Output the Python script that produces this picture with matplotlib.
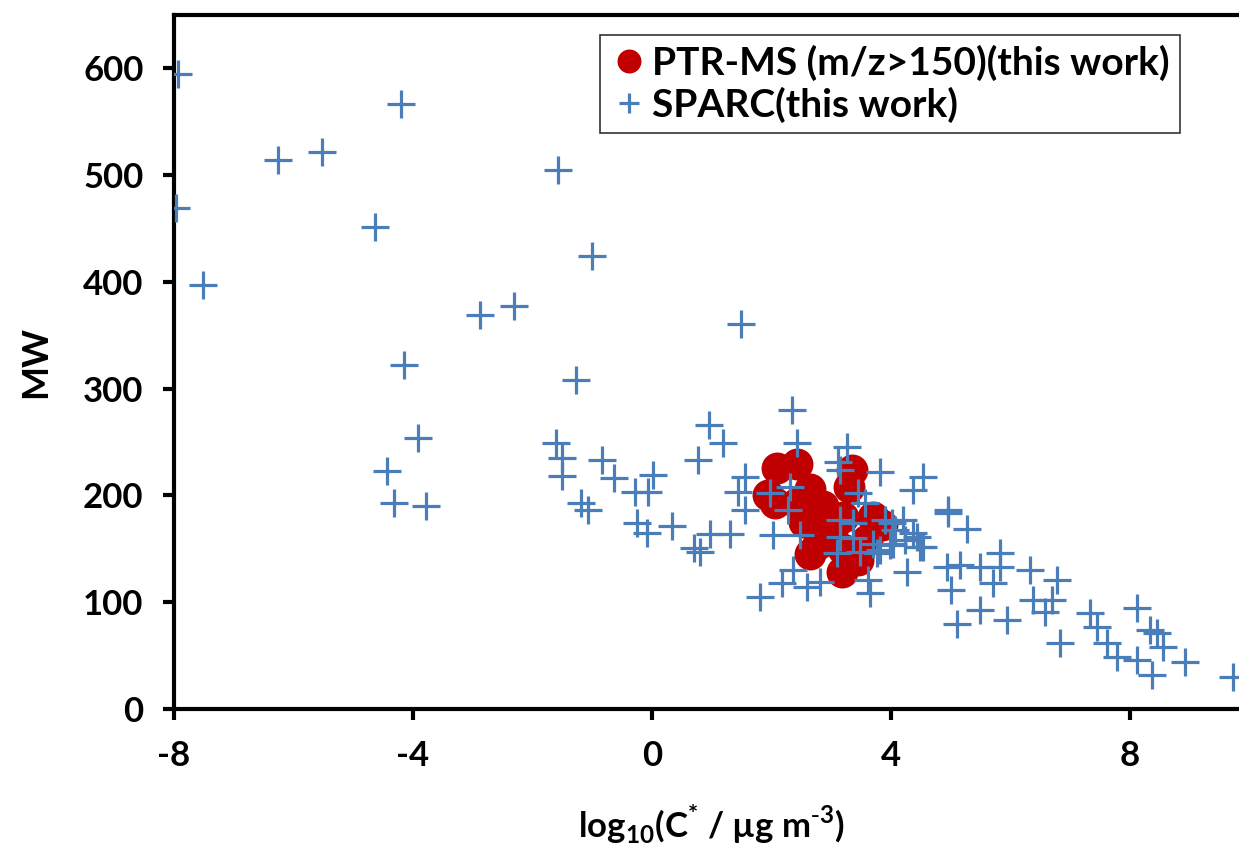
import matplotlib
matplotlib.use("Agg")
import matplotlib.pyplot as plt

plt.rcParams['font.family'] = ['Lato', 'DejaVu Sans']
plt.rcParams['axes.unicode_minus'] = False

# SPARC (this work): log10(C*) and MW
sparc_x = [-7.93, -7.97, -7.51, -6.26, -5.52, -4.20, -4.64, -4.15, -3.92, -4.44,
           -4.32, -3.78, -2.88, -2.31, -1.57, -1.00, -1.27, 1.49,
           -1.61, -1.51, -1.51, -0.84, -0.64, -1.19, -1.07, -0.28, -0.25, -0.08,
           0.02, -0.07, 0.33, 0.95, 1.19, 0.77, 1.56, 1.44, 1.56, 0.97, 1.31, 0.80,
           0.70, 2.34, 2.43, 1.97, 2.31, 2.28, 2.03, 2.48, 2.36, 2.17, 1.81, 2.81,
           3.26, 3.11, 3.15, 3.82, 3.45, 3.57, 3.15, 3.37, 3.15, 3.37, 3.70, 3.10,
           3.48, 3.82, 4.02, 3.62, 2.59, 3.65,
           4.54, 4.37, 4.95, 4.95, 5.27, 4.20, 4.03, 4.43, 4.54, 3.77, 4.94, 5.16,
           5.49, 5.82, 5.82, 6.33, 6.78, 5.71, 5.00, 4.27, 5.49, 7.33, 4.37, 4.48,
           5.94, 5.10, 6.38, 4.07, 4.23, 3.98, 3.90,
           6.69, 6.58, 6.83, 7.45, 7.61, 7.78, 8.12, 8.34, 8.45, 8.55, 8.12, 8.37,
           8.92, 9.72]
sparc_y = [595, 469, 397, 514, 522, 567, 451, 322, 254, 223,
           193, 190, 369, 377, 505, 424, 308, 361,
           249, 235, 218, 233, 216, 193, 186, 203, 174, 165,
           219, 203, 171, 266, 249, 233, 217, 203, 186, 164, 164, 147,
           151, 280, 249, 202, 208, 186, 163, 163, 130, 118, 105, 119,
           245, 231, 224, 222, 202, 193, 177, 174, 161, 160, 155, 146,
           147, 149, 174, 121, 114, 109,
           217, 205, 184, 186, 169, 177, 155, 161, 152, 146, 133, 135,
           133, 146, 133, 130, 121, 118, 111, 128, 93, 90, 165, 152,
           83, 80, 102, 168, 158, 154, 177,
           102, 91, 62, 77, 62, 49, 95, 74, 71, 58, 46, 32,
           44, 30]

# PTR-MS (m/z>150) (this work)
ptr_x = [2.09, 2.43, 3.35, 3.30, 1.94, 2.06, 2.64, 2.43, 2.86, 2.55, 2.80, 3.03,
         3.20, 3.70, 3.85, 2.78, 2.65, 3.20, 3.60, 3.45, 3.18, 2.95]
ptr_y = [226, 229, 224, 208, 200, 193, 206, 193, 190, 175, 175, 170,
         180, 180, 172, 155, 145, 150, 158, 140, 128, 160]

x_ticks = [-8, -4, 0, 4, 8]
y_ticks = [0, 100, 200, 300, 400, 500, 600]

W, H = 1239, 852
fig = plt.figure(figsize=(W / 100, H / 100), dpi=100)
left = 174 / W
bottom = (H - 709) / H
width = 18 * 59.75 / W
height = (709 - 15) / H
ax = fig.add_axes([left, bottom, width, height])

ax.plot(ptr_x, ptr_y, 'o', color='#C00000', markersize=23, markeredgewidth=0,
        linestyle='none', label='PTR-MS (m/z>150)(this work)', zorder=2)
ax.plot(sparc_x, sparc_y, '+', color='#4A7EBB', markersize=20, markeredgewidth=2.3,
        linestyle='none', label='SPARC(this work)', zorder=3)

ax.set_xlim(-8, 10)
ax.set_ylim(0, 650)
ax.set_xticks(x_ticks)
ax.set_yticks(y_ticks)
ax.set_xticklabels([str(v) for v in x_ticks])
ax.set_yticklabels([str(v) for v in y_ticks])

for s in ax.spines.values():
    s.set_linewidth(3)
    s.set_color('black')
ax.tick_params(direction='out', length=8, width=3, labelsize=25, pad=14)
for lbl in ax.get_xticklabels() + ax.get_yticklabels():
    lbl.set_fontweight('bold')

ax.set_ylabel('MW', fontsize=26, fontweight='bold', labelpad=22)
ax.set_xlabel(r'log$_{\mathregular{10}}$(C$^{\mathregular{*}}$ / µg m$^{\mathregular{\text{-}3}}$)',
              fontsize=25, fontweight='bold', labelpad=22)

leg = ax.legend(loc='upper left', bbox_to_anchor=((600 - 174) / (18 * 59.75), 1 - 20 / 694),
                fontsize=28, frameon=True, fancybox=False, edgecolor='black',
                handletextpad=0.1, handlelength=1.0, borderpad=0.25, labelspacing=0.15,
                markerscale=0.75, borderaxespad=0)
leg.get_frame().set_linewidth(1.2)
for t in leg.get_texts():
    t.set_fontweight('bold')

fig.savefig('out.png', dpi=100)
